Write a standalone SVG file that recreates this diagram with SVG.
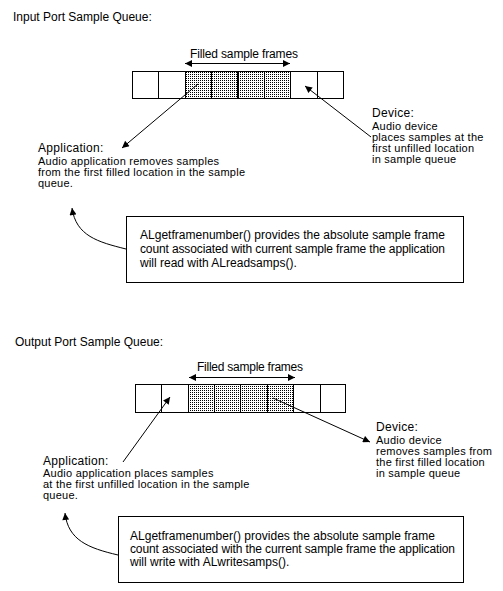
<svg xmlns="http://www.w3.org/2000/svg" width="503" height="591" viewBox="0 0 503 591">
<style>
text{font-family:"Liberation Sans",Arial,sans-serif;fill:#000}
.t{font-size:12px}
.l{font-size:12px;letter-spacing:0.3px}
.s{font-size:11px;letter-spacing:0.25px}
.cell{fill:#fff;stroke:#000;stroke-width:1;shape-rendering:crispEdges}
.full{fill:url(#dots);stroke:#000;stroke-width:1;shape-rendering:crispEdges}
.box{fill:#fff;stroke:#000;stroke-width:1;shape-rendering:crispEdges}
.ln{fill:none;stroke:#000;stroke-width:1}
.arr{marker-end:url(#ah)}
.dbl{marker-start:url(#ah);marker-end:url(#ah)}
</style>
<defs>
<pattern id="dots" width="2" height="2" patternUnits="userSpaceOnUse">
<rect width="2" height="2" fill="#fff"/>
<rect width="1" height="1" fill="#000"/>
</pattern>
<marker id="ah" viewBox="0 0 10 10" refX="10" refY="5" markerWidth="9" markerHeight="7" orient="auto-start-reverse" markerUnits="userSpaceOnUse">
<path d="M0,0 L10,5 L0,10 z" fill="#000"/>
</marker>
</defs>
<rect width="503" height="591" fill="#fff"/>

<g id="title-input"><text class="t" x="13" y="21">Input Port Sample Queue:</text></g>

<g id="queue-input">
<rect class="cell" x="132.5" y="71.5" width="26" height="27"/>
<rect class="cell" x="158.5" y="71.5" width="26.5" height="27"/>
<rect class="full" x="185.5" y="71.5" width="26" height="27"/>
<rect class="full" x="211.5" y="71.5" width="26" height="27"/>
<rect class="full" x="237.5" y="71.5" width="26.5" height="27"/>
<rect class="full" x="264.5" y="71.5" width="26" height="27"/>
<rect class="cell" x="290.5" y="71.5" width="26.5" height="27"/>
<rect class="cell" x="317.5" y="71.5" width="26" height="27"/>
<line x1="238.5" y1="71.5" x2="238.5" y2="98.5" stroke="#000"/>
</g>

<g id="filled-input"><text class="t" x="190" y="58" textLength="108" lengthAdjust="spacing">Filled sample frames</text></g>

<g id="app-input">
<text class="l" x="38" y="152">Application:</text>
<text class="s" x="38" y="165">Audio application removes samples</text>
<text class="s" x="38" y="176">from the first filled location in the sample</text>
<text class="s" x="38" y="187">queue.</text>
</g>

<g id="dev-input">
<text class="l" x="372" y="117">Device:</text>
<text class="s" x="372" y="130">Audio device</text>
<text class="s" x="372" y="141">places samples at the</text>
<text class="s" x="372" y="152">first unfilled location</text>
<text class="s" x="372" y="163">in sample queue</text>
</g>

<g id="note-input">
<rect class="box" x="126.5" y="216.5" width="337" height="66"/>
<text class="t" x="140" y="239" textLength="305" lengthAdjust="spacing">ALgetframenumber() provides the absolute sample frame</text>
<text class="t" x="140" y="253" textLength="305" lengthAdjust="spacing">count associated with current sample frame the application</text>
<text class="t" x="140" y="267">will read with ALreadsamps().</text>
</g>

<g id="title-output"><text class="t" x="15" y="346">Output Port Sample Queue:</text></g>

<g id="queue-output">
<rect class="cell" x="135.5" y="384.5" width="25.5" height="27.5"/>
<rect class="cell" x="161.5" y="384.5" width="26.5" height="27.5"/>
<rect class="full" x="188.5" y="384.5" width="26" height="27.5"/>
<rect class="full" x="214.5" y="384.5" width="26" height="27.5"/>
<rect class="full" x="240.5" y="384.5" width="26.5" height="27.5"/>
<rect class="full" x="267.5" y="384.5" width="26" height="27.5"/>
<rect class="cell" x="293.5" y="384.5" width="26.5" height="27.5"/>
<rect class="cell" x="320.5" y="384.5" width="25" height="27.5"/>
</g>

<g id="filled-output"><text class="t" x="197" y="371" textLength="106" lengthAdjust="spacing">Filled sample frames</text></g>

<g id="app-output">
<text class="l" x="43" y="465">Application:</text>
<text class="s" x="43" y="477">Audio application places samples</text>
<text class="s" x="43" y="488">at the first unfilled location in the sample</text>
<text class="s" x="43" y="499">queue.</text>
</g>

<g id="dev-output">
<text class="l" x="376" y="431">Device:</text>
<text class="s" x="376" y="444">Audio device</text>
<text class="s" x="376" y="455">removes samples from</text>
<text class="s" x="376" y="466">the first filled location</text>
<text class="s" x="376" y="477">in sample queue</text>
</g>

<g id="note-output">
<rect class="box" x="118.5" y="516.5" width="345" height="66"/>
<text class="t" x="130" y="540" textLength="305" lengthAdjust="spacing">ALgetframenumber() provides the absolute sample frame</text>
<text class="t" x="130" y="553" textLength="325" lengthAdjust="spacing">count associated with the current sample frame the application</text>
<text class="t" x="130" y="566">will write with ALwritesamps().</text>
</g>

<g id="connectors">
<line class="ln dbl" x1="185" y1="63.5" x2="290" y2="63.5"/>
<line class="ln arr" x1="198" y1="84" x2="122" y2="148"/>
<line class="ln arr" x1="371" y1="137" x2="305" y2="86"/>
<path class="ln arr" d="M126,249 C98,242 76,236 72,208"/>
<line class="ln dbl" x1="189" y1="377.5" x2="295" y2="377.5"/>
<line class="ln arr" x1="123" y1="462" x2="170" y2="397"/>
<line class="ln arr" x1="273" y1="398" x2="370" y2="442"/>
<path class="ln arr" d="M118,555 C88,548 68,540 65,513"/>
</g>
</svg>
